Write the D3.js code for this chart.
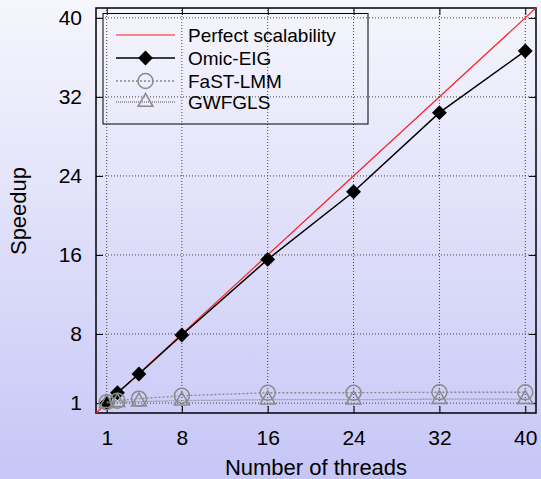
<!DOCTYPE html>
<html><head><meta charset="utf-8">
<script src="https://cdn.jsdelivr.net/npm/d3@7/dist/d3.min.js"></script>
<style>html,body{margin:0;padding:0;}svg{display:block;}</style>
</head><body>
<script>
const threads = [1, 2, 4, 8, 16, 24, 32, 40];
const perfect = [0, 41];
const omicEIG = [1, 2.05, 3.95, 7.9, 15.55, 22.4, 30.4, 36.65];
const fastLMM = [1.1, 1.25, 1.45, 1.75, 2.05, 2.05, 2.1, 2.1];
const gwfgls = [1.0, 1.1, 1.15, 1.25, 1.35, 1.35, 1.4, 1.4];
const xTicks = [1, 8, 16, 24, 32, 40];
const yTicks = [1, 8, 16, 24, 32, 40];
const seriesNames = ["Perfect scalability", "Omic-EIG", "FaST-LMM", "GWFGLS"];

const W = 541, H = 479;
const m = {l: 96, r: 5, t: 8, b: 66};
const svg = d3.select("body").append("svg").attr("width", W).attr("height", H);
const defs = svg.append("defs");
const g = defs.append("linearGradient").attr("id", "bg").attr("x1", 0).attr("y1", 0).attr("x2", 0).attr("y2", 1);
g.append("stop").attr("offset", "0%").attr("stop-color", "#f6f6fd");
g.append("stop").attr("offset", "100%").attr("stop-color", "#c6c6f7");
svg.append("rect").attr("width", W).attr("height", H).attr("fill", "url(#bg)");

const x = d3.scaleLinear().domain([0, 41]).range([m.l, W - m.r]);
const y = d3.scaleLinear().domain([0, 41]).range([H - m.b, m.t]);
const font = "Liberation Sans, Arial, sans-serif";

// grid
const grid = svg.append("g");
xTicks.forEach(t => grid.append("line").attr("x1", x(t)).attr("x2", x(t)).attr("y1", y(0)).attr("y2", y(41))
  .attr("stroke", "#444").attr("stroke-width", 1).attr("stroke-dasharray", "1,2"));
yTicks.forEach(t => grid.append("line").attr("x1", x(0)).attr("x2", x(41)).attr("y1", y(t)).attr("y2", y(t))
  .attr("stroke", "#444").attr("stroke-width", 1).attr("stroke-dasharray", "1,2"));

// axes
const ax = svg.append("g").attr("transform", `translate(0,${y(0)})`)
  .call(d3.axisBottom(x).tickValues(xTicks).tickSize(-7).tickPadding(17));
const ay = svg.append("g").attr("transform", `translate(${x(0)},0)`)
  .call(d3.axisLeft(y).tickValues(yTicks).tickSize(-7).tickPadding(14));
const axT = svg.append("g").attr("transform", `translate(0,${y(41)})`)
  .call(d3.axisTop(x).tickValues(xTicks).tickSize(-7).tickFormat(""));
const ayR = svg.append("g").attr("transform", `translate(${x(41)},0)`)
  .call(d3.axisRight(y).tickValues(yTicks).tickSize(-7).tickFormat(""));
[ax, ay, axT, ayR].forEach(a => {
  a.select(".domain").remove();
  a.selectAll("line").attr("stroke", "#000").attr("stroke-width", 1);
  a.selectAll("text").attr("font-family", font).attr("font-size", 21).attr("fill", "#000");
});
svg.append("rect").attr("x", x(0)).attr("y", y(41)).attr("width", x(41) - x(0)).attr("height", y(0) - y(41))
  .attr("fill", "none").attr("stroke", "#000").attr("stroke-width", 1.5);

const clip = defs.append("clipPath").attr("id", "clip");
clip.append("rect").attr("x", x(0)).attr("y", y(41)).attr("width", x(41) - x(0)).attr("height", y(0) - y(41));
const plot = svg.append("g").attr("clip-path", "url(#clip)");

const line = d3.line().x(d => x(d[0])).y(d => y(d[1]));
// perfect
plot.append("path").datum(perfect.map(v => [v, v])).attr("d", line)
  .attr("fill", "none").attr("stroke", "#ff1a1a").attr("stroke-width", 1.2);
// Omic-EIG
const omicPts = threads.map((t, i) => [t, omicEIG[i]]);
plot.append("path").datum(omicPts).attr("d", line).attr("fill", "none").attr("stroke", "#000").attr("stroke-width", 1.5);
const diamond = d3.symbol().type(d3.symbolSquare).size(110);
plot.selectAll(".dia").data(omicPts).enter().append("path")
  .attr("d", diamond).attr("transform", d => `translate(${x(d[0])},${y(d[1])}) rotate(45)`).attr("fill", "#000");
// FaST-LMM
const fastPts = threads.map((t, i) => [t, fastLMM[i]]);
plot.append("path").datum(fastPts).attr("d", line).attr("fill", "none").attr("stroke", "#888")
  .attr("stroke-width", 1.3).attr("stroke-dasharray", "2,2");
plot.selectAll(".circ").data(fastPts).enter().append("circle")
  .attr("cx", d => x(d[0])).attr("cy", d => y(d[1])).attr("r", 7.5)
  .attr("fill", "none").attr("stroke", "#8a8a8a").attr("stroke-width", 1.5);
// GWFGLS
const gwPts = threads.map((t, i) => [t, gwfgls[i]]);
plot.append("path").datum(gwPts).attr("d", line).attr("fill", "none").attr("stroke", "#888")
  .attr("stroke-width", 1.3).attr("stroke-dasharray", "1,1");
const tri = d3.symbol().type(d3.symbolTriangle).size(95);
plot.selectAll(".tri").data(gwPts).enter().append("path")
  .attr("d", tri).attr("transform", d => `translate(${x(d[0])},${y(d[1])})`)
  .attr("fill", "none").attr("stroke", "#8a8a8a").attr("stroke-width", 1.5);

// legend
const lg = svg.append("g");
lg.append("rect").attr("x", 103).attr("y", 13.5).attr("width", 265).attr("height", 110.5)
  .attr("fill", "none").attr("stroke", "#000").attr("stroke-width", 1);
const rows = [35, 58, 81, 102];
rows.forEach((ry, i) => {
  const l = lg.append("line").attr("x1", 116).attr("x2", 175).attr("y1", ry).attr("y2", ry);
  if (i === 0) l.attr("stroke", "#ff1a1a").attr("stroke-width", 1.2);
  if (i === 1) { l.attr("stroke", "#000").attr("stroke-width", 1.5);
    lg.append("path").attr("d", diamond).attr("transform", `translate(145.5,${ry}) rotate(45)`).attr("fill", "#000"); }
  if (i === 2) { l.attr("stroke", "#888").attr("stroke-width", 1.3).attr("stroke-dasharray", "2,2");
    lg.append("circle").attr("cx", 145.5).attr("cy", ry).attr("r", 7.5).attr("fill", "none").attr("stroke", "#8a8a8a").attr("stroke-width", 1.5); }
  if (i === 3) { l.attr("stroke", "#888").attr("stroke-width", 1.3).attr("stroke-dasharray", "1,1");
    lg.append("path").attr("d", tri).attr("transform", `translate(145.5,${ry})`).attr("fill", "none").attr("stroke", "#8a8a8a").attr("stroke-width", 1.5); }
  lg.append("text").attr("x", 188).attr("y", ry).attr("dy", "0.35em").text(seriesNames[i])
    .attr("font-family", font).attr("font-size", 19).attr("fill", "#000");
});

// axis titles
svg.append("text").attr("x", 316).attr("y", 467).attr("dy", "0.35em").attr("text-anchor", "middle")
  .attr("font-family", font).attr("font-size", 22).text("Number of threads");
svg.append("text").attr("transform", "translate(18,211) rotate(-90)").attr("dy", "0.35em").attr("text-anchor", "middle")
  .attr("font-family", font).attr("font-size", 22).text("Speedup");
</script>
</body></html>
